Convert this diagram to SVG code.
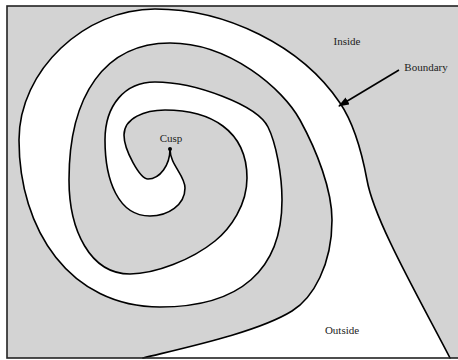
<svg xmlns="http://www.w3.org/2000/svg" width="458" height="360" viewBox="0 0 458 360">
<style>
.curve{fill:none;stroke:#000;stroke-width:1.6;stroke-linecap:round;stroke-linejoin:round}
.lbl{font-family:"Liberation Serif","Times New Roman",serif;font-size:11px;fill:#222;text-anchor:middle}
</style>
<defs>
<marker id="ah" markerUnits="userSpaceOnUse" markerWidth="11" markerHeight="8" refX="10" refY="4" orient="auto">
<path d="M0,0 L11,4 L0,8 z" fill="#000"/>
</marker>
</defs>
<rect id="background" x="7" y="6" width="460" height="352" fill="#d3d3d3"/>
<g id="outside-region">
<path fill="#fff" d="M450,358 C419,298 374,220 367,180 C362,153 355,125 340,103 C301,45 225,9 155,9 C85,9 19,70 19,140 C19,230 70,307 160,307 C240,307 282,270 282,200 C282,175 276,143 268,127 C257,105 195,82 155,82 C125,82 105,105 105,140 C105,180 118,216 150,216 C168,216 185,205 185,188 C185,175 170,165 170,149 C170,165 160,179 148,179 C140,179 124,150 124,135 C124,118 145,110 165,110 C210,110 247,130 247,178 C247,205 230.6,228.4 215,241 C191.6,259.9 155,274 130,274 C90,274 69,230 69,180 C69,95 105,43 170,43 C230,43 283,89 300,120 C317,151 332,190 332,220 C332,265 313,298 292,311 C258,332 188.6,346.8 143,358 L143,362 L450,362 Z"/>
</g>
<g id="boundary">
<path class="curve" d="M450,358 C419,298 374,220 367,180 C362,153 355,125 340,103 C301,45 225,9 155,9 C85,9 19,70 19,140 C19,230 70,307 160,307 C240,307 282,270 282,200 C282,175 276,143 268,127 C257,105 195,82 155,82 C125,82 105,105 105,140 C105,180 118,216 150,216 C168,216 185,205 185,188 C185,175 170,165 170,149"/>
<path class="curve" d="M170,149 C170,165 160,179 148,179 C140,179 124,150 124,135 C124,118 145,110 165,110 C210,110 247,130 247,178 C247,205 230.6,228.4 215,241 C191.6,259.9 155,274 130,274 C90,274 69,230 69,180 C69,95 105,43 170,43 C230,43 283,89 300,120 C317,151 332,190 332,220 C332,265 313,298 292,311 C258,332 188.6,346.8 143,358"/>
</g>
<rect id="frame" x="7" y="6" width="460" height="352" fill="none" stroke="#222" stroke-width="1.6"/>
<g id="cusp">
<circle cx="170" cy="149" r="2" fill="#000"/>
<text class="lbl" x="171" y="141.5">Cusp</text>
</g>
<g id="connectors">
<line x1="399" y1="70" x2="339" y2="106" stroke="#000" stroke-width="1.6" marker-end="url(#ah)"/>
</g>
<g id="label-inside"><text class="lbl" x="347" y="44.5">Inside</text></g>
<g id="label-boundary"><text class="lbl" x="426" y="70.5">Boundary</text></g>
<g id="label-outside"><text class="lbl" x="342" y="333.5">Outside</text></g>
</svg>
